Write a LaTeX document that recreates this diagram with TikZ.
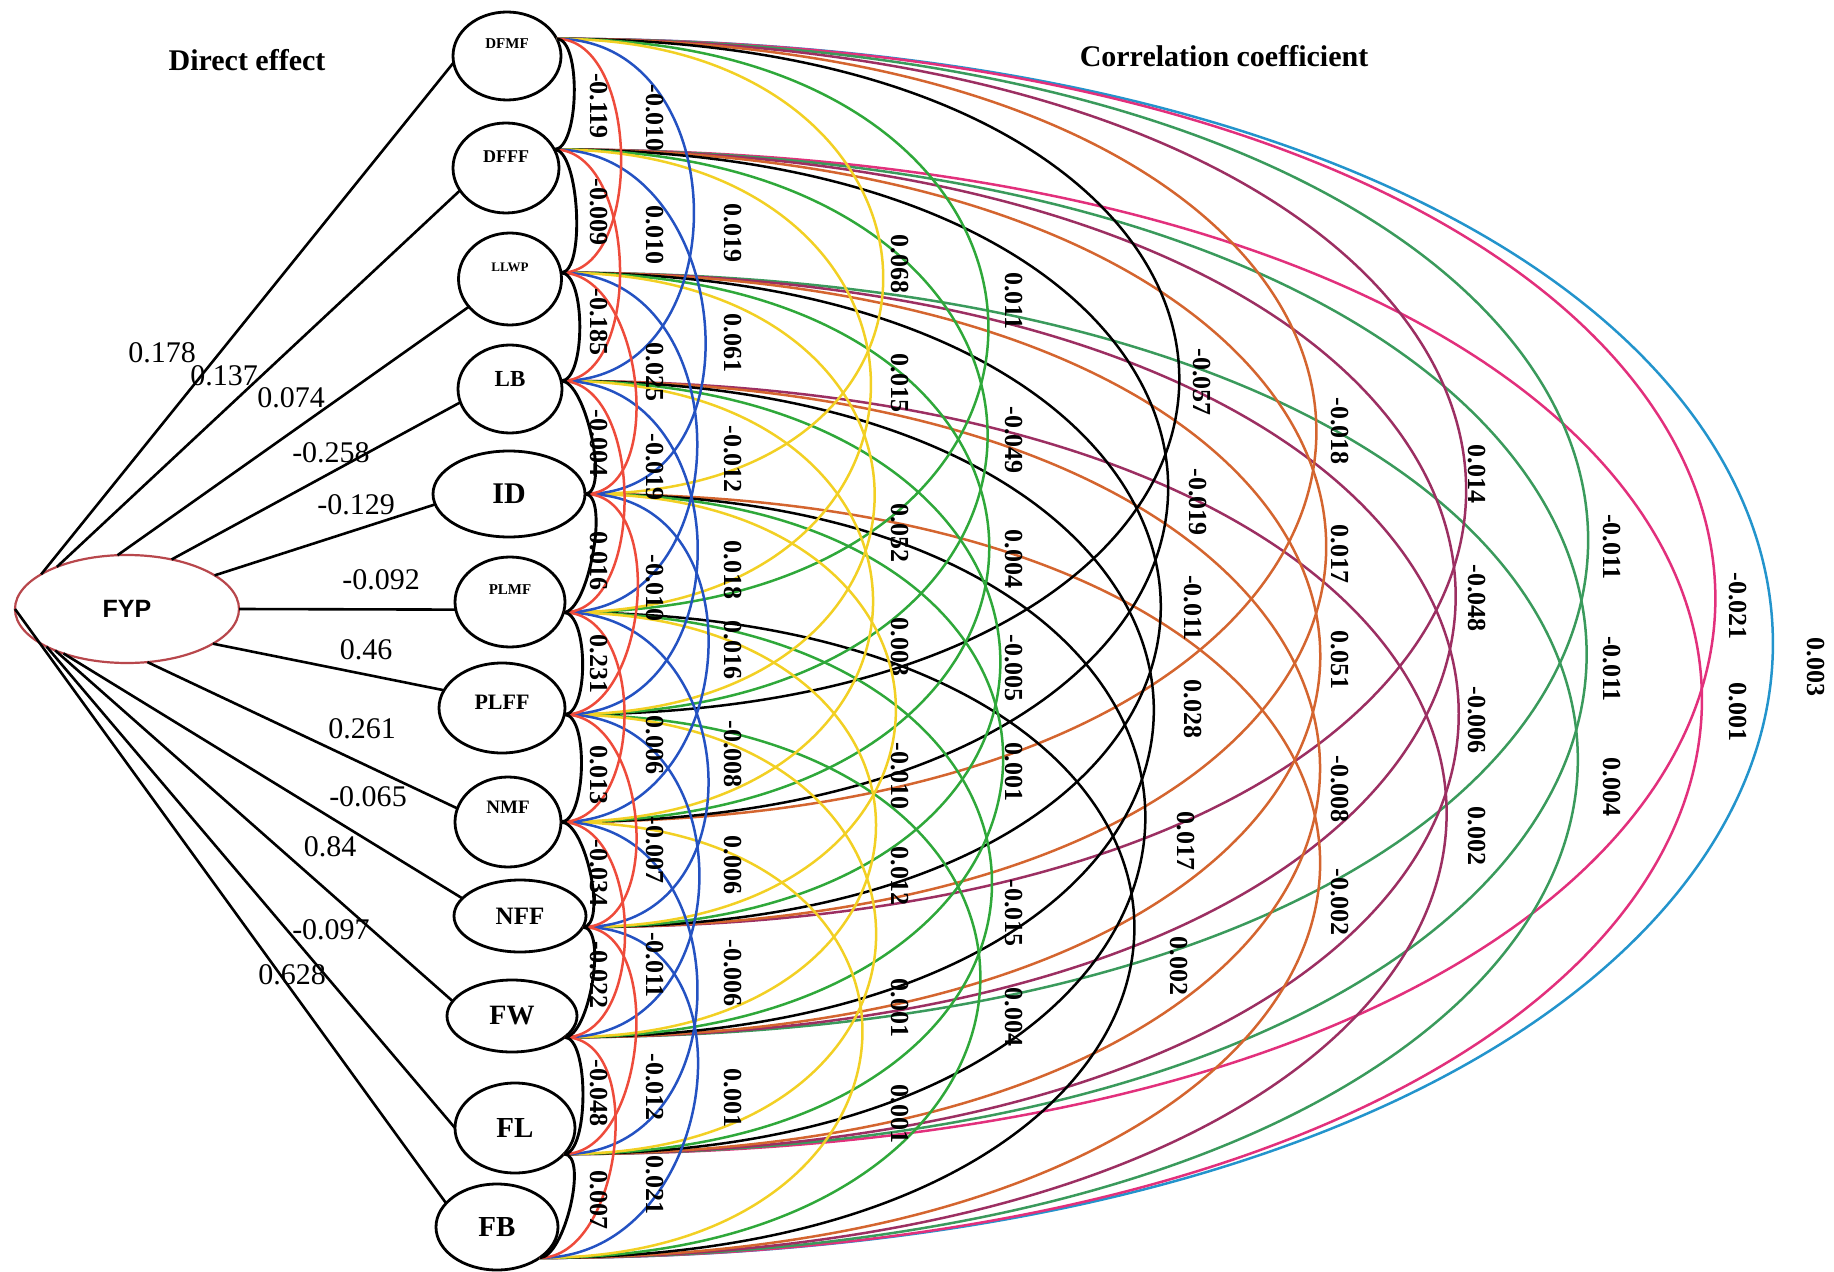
\documentclass[tikz,border=0pt]{standalone}
\usepackage{fontspec}
\setmainfont{Liberation Serif}
\newfontfamily\arialfont{Liberation Sans}
\usetikzlibrary{shapes.geometric}
\definecolor{fypred}{HTML}{B8474C}
\definecolor{corred}{HTML}{EE4B3B}
\definecolor{corblue}{HTML}{2452C2}
\definecolor{coryellow}{HTML}{F2D024}
\definecolor{corgreen}{HTML}{2FA83A}
\definecolor{corbrown}{HTML}{D4652F}
\definecolor{corplum}{HTML}{9C2F62}
\definecolor{corteal}{HTML}{3A9A5C}
\definecolor{corpink}{HTML}{E2307C}
\definecolor{corcyan}{HTML}{2394CC}
\newcommand{\fsz}[1]{\fontsize{#1}{#1}\selectfont\bfseries}

\begin{document}
\begin{tikzpicture}[x=0.5pt, y=-0.5pt,
    var/.style={ellipse, draw, line width=1.4pt, inner sep=0pt, outer sep=0pt, fill=white},
    eff/.style={line width=1.3pt},
    cor/.style={line width=1.25pt, draw=#1},
    coef/.style={rotate=-90, inner sep=0pt, font=\fsz{13pt}},
    dval/.style={inner sep=0pt, font=\fontsize{15pt}{15pt}\selectfont},
    heading/.style={inner sep=0pt, font=\fsz{15pt}}
]
\useasboundingbox (0,0) rectangle (1834,1272);

% Headings
\node[heading] (hdir) at (247,60) {Direct effect};
\node[heading] (hcor) at (1224,56) {Correlation coefficient};

% Yield and traits
\node[var, draw=fypred, line width=1.1pt, minimum width=112pt, minimum height=54pt, font=\arialfont\fsz{12.5pt}] (fyp) at (127,609) {FYP};
\node[var, minimum width=54pt, minimum height=44pt, text depth=12pt, font=\fsz{7.5pt}] (dfmf) at (507,56) {DFMF};
\node[var, minimum width=53pt, minimum height=45pt, text depth=11pt, font=\fsz{9pt}] (dfff) at (506,168) {DFFF};
\node[var, minimum width=51.5pt, minimum height=46pt, text depth=12pt, font=\fsz{6.5pt}] (llwp) at (510,279) {LLWP};
\node[var, minimum width=52pt, minimum height=44pt, text depth=10pt, font=\fsz{11.5pt}] (lb) at (510,389) {LB};
\node[var, minimum width=76pt, minimum height=43pt, font=\fsz{15pt}] (id) at (509,494) {ID};
\node[var, minimum width=55pt, minimum height=45pt, text depth=12pt, font=\fsz{7.5pt}] (plmf) at (510,602) {PLMF};
\node[var, minimum width=63pt, minimum height=45pt, text depth=6pt, font=\fsz{11pt}] (plff) at (502,708) {PLFF};
\node[var, minimum width=53pt, minimum height=45pt, text depth=15pt, font=\fsz{9.5pt}] (nmf) at (508,822) {NMF};
\node[var, minimum width=66pt, minimum height=36pt, font=\fsz{12.5pt}] (nff) at (520,916) {NFF};
\node[var, minimum width=65pt, minimum height=36pt, font=\fsz{14pt}] (fw) at (512,1016) {FW};
\node[var, minimum width=60pt, minimum height=45pt, font=\fsz{14.5pt}] (fl) at (515,1128) {FL};
\node[var, minimum width=61pt, minimum height=43pt, font=\fsz{14.5pt}] (fb) at (497,1227) {FB};

% Ports of the correlation arcs
\coordinate (dfmf-p) at (dfmf.19);
\coordinate (dfff-p) at (dfff.21);
\coordinate (llwp-p) at (llwp.7);
\coordinate (lb-p) at (lb.9);
\coordinate (id-p) at (id.0);
\coordinate (plmf-p) at (plmf.-11);
\coordinate (plff-p) at (plff.-6);
\coordinate (nmf-p) at (nmf.0);
\coordinate (nff-p) at (nff.-10);
\coordinate (fw-p) at (fw.-22);
\coordinate (fl-p) at (fl.-28);
\coordinate (fb-p) at (fb.-36);

% Direct effects
\draw[eff] (fyp.158) -- (dfmf.187);
\draw[eff] (fyp.149) -- (dfff.206);
\draw[eff] (fyp.100) -- (llwp.214);
\draw[eff] (fyp.48) -- (lb.195);
\draw[eff] (fyp.21) -- (id.188);
\draw[eff] (fyp.0) -- (plmf.188);
\draw[eff] (fyp.-22) -- (plff.163);
\draw[eff] (fyp.-69) -- (nmf.165);
\draw[eff] (fyp.-145) -- (nff.163);
\draw[eff] (fyp.-150) -- (fw.166);
\draw[eff] (fyp.-155) -- (fl.180);
\draw[eff] (fyp.180) -- (fb.155);

\node[dval] (e1) at (162,353) {0.178};
\node[dval] (e2) at (224,376) {0.137};
\node[dval] (e3) at (291,398) {0.074};
\node[dval] (e4) at (331,453) {-0.258};
\node[dval] (e5) at (356,505) {-0.129};
\node[dval] (e6) at (381,580) {-0.092};
\node[dval] (e7) at (366,650) {0.46};
\node[dval] (e8) at (362,729) {0.261};
\node[dval] (e9) at (368,797) {-0.065};
\node[dval] (e10) at (330,847) {0.84};
\node[dval] (e11) at (331,930) {-0.097};
\node[dval] (e12) at (292,975) {0.628};

% Correlation arcs, outermost first
\foreach \a/\b/\ly/\v in {dfmf/fb/667/0.003}
  {\draw[cor=corcyan] (\a-p) .. controls +(1633,0) and +(1633,0) .. (\b-p);
   \node[coef] at (1816,\ly) {\v};}
\foreach \a/\b/\ly/\v in {dfmf/fl/606/-0.021, dfff/fb/712/0.001}
  {\draw[cor=corpink] (\a-p) .. controls +(1540,0) and +(1540,0) .. (\b-p);
   \node[coef] at (1738,\ly) {\v};}
\foreach \a/\b/\ly/\v in {dfmf/fw/547/-0.011, dfff/fl/669/-0.011, llwp/fb/787/0.004}
  {\draw[cor=corteal] (\a-p) .. controls +(1370,0) and +(1370,0) .. (\b-p);
   \node[coef] at (1612,\ly) {\v};}
\foreach \a/\b/\ly/\v in {dfmf/nff/474/0.014, dfff/fw/598/-0.048, llwp/fl/720/-0.006, lb/fb/836/0.002}
  {\draw[cor=corplum] (\a-p) .. controls +(1195,0) and +(1195,0) .. (\b-p);
   \node[coef] at (1477,\ly) {\v};}
\foreach \a/\b/\ly/\v in {dfmf/nmf/431/-0.018, dfff/nff/554/0.017, llwp/fw/660/0.051, lb/fl/789/-0.008, id/fb/902/-0.002}
  {\draw[cor=corbrown] (\a-p) .. controls +(1010,0) and +(1010,0) .. (\b-p);
   \node[coef] at (1340,\ly) {\v};}
\foreach \a/\b/\k/\lx/\ly/\v in {dfmf/plff/825/1202/382/-0.057, dfff/nmf/814/1198/502/-0.019, llwp/nff/785/1193/608/-0.011, lb/fw/788/1193/709/0.028, id/fl/761/1186/841/0.017, plmf/fb/777/1179/966/0.002}
  {\draw[cor=black] (\a-p) .. controls +(\k,0) and +(\k,0) .. (\b-p);
   \node[coef] at (\lx,\ly) {\v};}
\foreach \a/\b/\ly/\v in {dfmf/plmf/301/0.011, dfff/plff/440/-0.049, llwp/nmf/559/0.004, lb/nff/668/-0.005, id/fw/772/0.001, plmf/fl/913/-0.015, plff/fb/1017/0.004}
  {\draw[cor=corgreen] (\a-p) .. controls +(571,0) and +(571,0) .. (\b-p);
   \node[coef] at (1014,\ly) {\v};}
\foreach \a/\b/\ly/\v in {dfmf/id/264/0.068, dfff/plmf/383/0.015, llwp/plff/533/0.052, lb/nmf/647/0.003, id/nff/776/-0.010, plmf/fw/876/0.012, plff/fl/1008/0.001, nmf/fb/1114/0.001}
  {\draw[cor=coryellow] (\a-p) .. controls +(416,0) and +(416,0) .. (\b-p);
   \node[coef] at (900,\ly) {\v};}
\foreach \a/\b/\ly/\v in {dfmf/lb/233/0.019, dfff/id/343/0.061, llwp/plmf/459/-0.012, lb/plff/570/0.018, id/nmf/650/0.016, plmf/nff/754/-0.008, plff/fw/865/0.006, nmf/fl/973/-0.006, nff/fb/1098/0.001}
  {\draw[cor=corblue] (\a-p) .. controls +(180,0) and +(180,0) .. (\b-p);
   \node[coef] at (733,\ly) {\v};}
\foreach \a/\b/\ly/\v in {dfmf/llwp/118/-0.010, dfff/lb/235/0.010, llwp/id/372/0.025, lb/plmf/467/-0.019, id/plff/588/-0.010, plmf/nmf/745/0.006, plff/nff/850/-0.007, nmf/fw/965/-0.011, nff/fl/1087/-0.012, fw/fb/1185/0.021}
  {\draw[cor=corred] (\a-p) .. controls +(83,0) and +(83,0) .. (\b-p);
   \node[coef] at (655,\ly) {\v};}
\foreach \a/\b/\ly/\v in {dfmf/dfff/106/-0.119, dfff/llwp/212/-0.009, llwp/lb/322/-0.185, lb/id/443/-0.004, id/plmf/561/0.016, plmf/plff/664/0.231, plff/nmf/775/0.013, nmf/nff/873/-0.034, nff/fw/975/-0.022, fw/fl/1093/-0.048, fl/fb/1200/0.007}
  {\draw[cor=black, line width=1.45pt] (\a-p) .. controls +(25,0) and +(25,0) .. (\b-p);
   \node[coef] at (599,\ly) {\v};}

\end{tikzpicture}
\end{document}
